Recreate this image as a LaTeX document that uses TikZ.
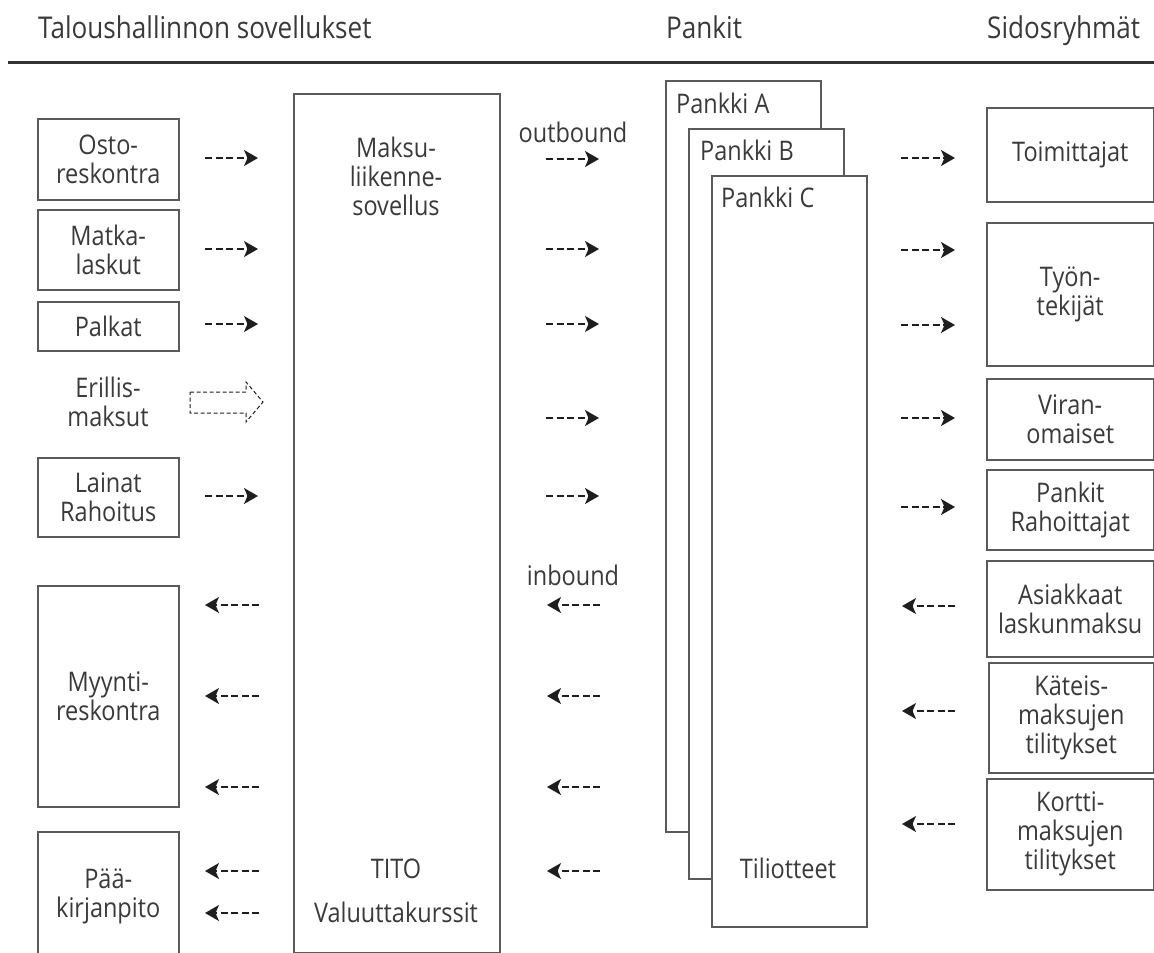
\documentclass[tikz,border=0pt]{standalone}
\usepackage{fontspec}
\setmainfont{Open Sans}[FakeStretch=0.87]
\usetikzlibrary{arrows.meta}
\definecolor{txt}{HTML}{3A3A3A}
\definecolor{ln}{HTML}{5A5A5A}
\definecolor{arr}{HTML}{1E1E1E}
\definecolor{rulec}{HTML}{333333}
\begin{document}
\begin{tikzpicture}[x=1pt,y=-1pt,
  font=\fontsize{27}{29}\selectfont, text=txt,
  box/.style={draw=ln, line width=1.5pt, fill=white, inner sep=0pt, align=center, anchor=north west},
  bank/.style={draw=ln, line width=1.5pt, fill=white, inner sep=0pt, anchor=north west},
  farrow/.style={draw=arr, line width=1.3pt, dash pattern=on 7pt off 3.5pt, -{Stealth[length=14pt,width=16pt,inset=3.5pt]}},
  lbl/.style={inner sep=0pt, align=center},
  hdr/.style={inner sep=0pt, anchor=base west, font=\fontsize{30}{32}\selectfont},
  bnk/.style={inner sep=0pt, anchor=base west},
]
\useasboundingbox (0,0) rectangle (1154,953);

% header
\node[hdr] (h1) at (38,38) {Taloushallinnon sovellukset};
\node[hdr] (h2) at (666,38) {Pankit};
\node[hdr] (h3) at (987,38) {Sidosryhmät};
\draw[line width=3pt, rulec] (8,62) -- (1154,62);

% left column
\node[box, minimum width=141pt, minimum height=81pt] (osto) at (37,118) {Osto-\\reskontra};
\node[box, minimum width=141pt, minimum height=80pt] (matka) at (37,209) {Matka-\\laskut};
\node[box, minimum width=141pt, minimum height=49pt] (palkat) at (37,301) {Palkat};
\node[lbl] (erillis) at (108,402) {Erillis-\\maksut};
\node[box, minimum width=141pt, minimum height=79pt] (lainat) at (37,457) {Lainat\\Rahoitus};
\node[box, minimum width=141pt, minimum height=221pt] (myynti) at (37,585) {Myynti-\\reskontra};
\node[box, minimum width=141pt, minimum height=130pt] (paa) at (37,831) {Pää-\\kirjanpito};

% main application box
\node[box, minimum width=206pt, minimum height=859pt] (maksu) at (293,93) {};
\node[lbl] (maksut) at (396,176) {Maksu-\\liikenne-\\sovellus};
\node[lbl] (tito) at (396,869) {TITO};
\node[lbl] (valuutta) at (396,912) {Valuuttakurssit};

% banks
\node[bank, minimum width=155pt, minimum height=751pt] (pa) at (665,80) {};
\node[bnk] (pal) at (676,113) {Pankki A};
\node[bank, minimum width=155pt, minimum height=750pt] (pb) at (688,128) {};
\node[bnk] (pbl) at (700,160) {Pankki B};
\node[bank, minimum width=155pt, minimum height=751pt] (pc) at (711,175) {};
\node[bnk] (pcl) at (721,207) {Pankki C};
\node[lbl] (tili) at (788,868) {Tiliotteet};

% labels
\node[inner sep=0pt, anchor=base] (outb) at (573,142) {outbound};
\node[inner sep=0pt, anchor=base] (inb) at (573,585) {inbound};

% right column
\node[box, minimum width=167pt, minimum height=94pt] (toim) at (986,107) {Toimittajat};
\node[box, minimum width=167pt, minimum height=143pt] (tyon) at (986,222) {Työn-\\tekijät};
\node[box, minimum width=167pt, minimum height=81pt] (viran) at (986,378) {Viran-\\omaiset};
\node[box, minimum width=167pt, minimum height=80pt] (pankit) at (986,469) {Pankit\\Rahoittajat};
\node[box, minimum width=167pt, minimum height=96pt] (asiak) at (986,560) {Asiakkaat\\laskunmaksu};
\node[box, minimum width=165pt, minimum height=110pt] (kateis) at (988,662) {Käteis-\\maksujen\\tilitykset};
\node[box, minimum width=167pt, minimum height=111pt] (kortti) at (986,778) {Kortti-\\maksujen\\tilitykset};

% outgoing arrows
\foreach \yy [count=\i] in {158,249,324,496} {
  \coordinate (lo\i a) at (205,\yy); \coordinate (lo\i b) at (258,\yy);
  \draw[farrow] (lo\i a) -- (lo\i b);
}
\foreach \yy [count=\i] in {159,249,324,418,496} {
  \coordinate (mo\i a) at (546,\yy); \coordinate (mo\i b) at (599,\yy);
  \draw[farrow] (mo\i a) -- (mo\i b);
}
\foreach \yy [count=\i] in {158,250,325,418,507} {
  \coordinate (ro\i a) at (901,\yy); \coordinate (ro\i b) at (955,\yy);
  \draw[farrow] (ro\i a) -- (ro\i b);
}
% incoming arrows
\foreach \yy [count=\i] in {605,696,787,871,913} {
  \coordinate (li\i a) at (259,\yy); \coordinate (li\i b) at (205,\yy);
  \draw[farrow] (li\i a) -- (li\i b);
}
\foreach \yy [count=\i] in {605,696,787,871} {
  \coordinate (mi\i a) at (600,\yy); \coordinate (mi\i b) at (547,\yy);
  \draw[farrow] (mi\i a) -- (mi\i b);
}
\foreach \yy [count=\i] in {606,711,824} {
  \coordinate (ri\i a) at (955,\yy); \coordinate (ri\i b) at (902,\yy);
  \draw[farrow] (ri\i a) -- (ri\i b);
}

% hollow dashed block arrow
\draw[arr, line width=1pt, dash pattern=on 4pt off 2.5pt, line join=miter]
  (190,392) -- (246,392) -- (246,382) -- (263,402) -- (246,422) -- (246,413) -- (190,413) -- cycle;
\end{tikzpicture}
\end{document}
